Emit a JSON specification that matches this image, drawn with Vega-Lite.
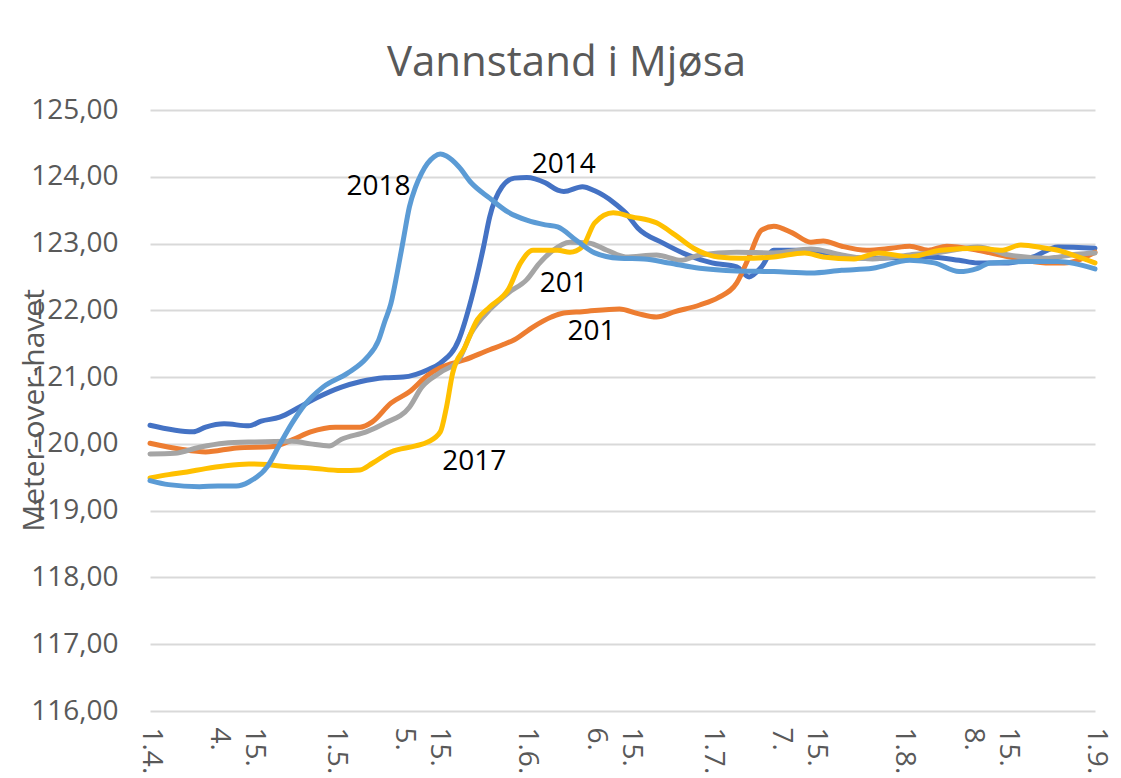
{
  "$schema": "https://vega.github.io/schema/vega-lite/v6.json",
  "width": 945,
  "height": 601,
  "autosize": {"type": "none"},
  "padding": {"left": 150, "top": 110, "right": 26, "bottom": 67},
  "background": "white",
  "title": {"text": "Vannstand i Mjøsa", "font": "Open Sans", "fontSize": 42, "fontWeight": "normal", "color": "#595959", "anchor": "middle", "dx": -56, "dy": 41, "baseline": "alphabetic", "offset": 19},
  "config": {"view": {"stroke": null}, "font": "Open Sans"},
  "datasets": {
    "levels": [
      {"year":"2014","date":"2018-04-01","level":120.28},{"year":"2014","date":"2018-04-08","level":120.18},{"year":"2014","date":"2018-04-10","level":120.25},{"year":"2014","date":"2018-04-13","level":120.30},{"year":"2014","date":"2018-04-17","level":120.27},{"year":"2014","date":"2018-04-19","level":120.34},{"year":"2014","date":"2018-04-22","level":120.40},{"year":"2014","date":"2018-04-25","level":120.54},{"year":"2014","date":"2018-04-28","level":120.69},{"year":"2014","date":"2018-05-02","level":120.85},{"year":"2014","date":"2018-05-05","level":120.93},{"year":"2014","date":"2018-05-09","level":120.99},{"year":"2014","date":"2018-05-12","level":121.00},{"year":"2014","date":"2018-05-16","level":121.11},{"year":"2014","date":"2018-05-18","level":121.21},{"year":"2014","date":"2018-05-21","level":121.56},{"year":"2014","date":"2018-05-23","level":122.16},{"year":"2014","date":"2018-05-25","level":122.95},{"year":"2014","date":"2018-05-26","level":123.40},{"year":"2014","date":"2018-05-28","level":123.85},{"year":"2014","date":"2018-05-30","level":123.98},{"year":"2014","date":"2018-06-01","level":123.99},{"year":"2014","date":"2018-06-04","level":123.91},{"year":"2014","date":"2018-06-06","level":123.80},{"year":"2014","date":"2018-06-07","level":123.78},{"year":"2014","date":"2018-06-10","level":123.85},{"year":"2014","date":"2018-06-12","level":123.79},{"year":"2014","date":"2018-06-15","level":123.62},{"year":"2014","date":"2018-06-17","level":123.46},{"year":"2014","date":"2018-06-19","level":123.23},{"year":"2014","date":"2018-06-23","level":123.01},{"year":"2014","date":"2018-06-27","level":122.83},{"year":"2014","date":"2018-07-01","level":122.71},{"year":"2014","date":"2018-07-05","level":122.65},{"year":"2014","date":"2018-07-07","level":122.50},{"year":"2014","date":"2018-07-09","level":122.65},{"year":"2014","date":"2018-07-11","level":122.90},{"year":"2014","date":"2018-07-17","level":122.90},{"year":"2014","date":"2018-07-22","level":122.80},{"year":"2014","date":"2018-07-27","level":122.78},{"year":"2014","date":"2018-08-05","level":122.80},{"year":"2014","date":"2018-08-10","level":122.75},{"year":"2014","date":"2018-08-13","level":122.71},{"year":"2014","date":"2018-08-18","level":122.71},{"year":"2014","date":"2018-08-22","level":122.80},{"year":"2014","date":"2018-08-26","level":122.95},{"year":"2014","date":"2018-09-01","level":122.93},
      {"year":"2015","date":"2018-04-01","level":120.01},{"year":"2015","date":"2018-04-06","level":119.92},{"year":"2015","date":"2018-04-10","level":119.88},{"year":"2015","date":"2018-04-15","level":119.94},{"year":"2015","date":"2018-04-21","level":119.96},{"year":"2015","date":"2018-04-24","level":120.06},{"year":"2015","date":"2018-04-27","level":120.18},{"year":"2015","date":"2018-05-01","level":120.25},{"year":"2015","date":"2018-05-05","level":120.25},{"year":"2015","date":"2018-05-07","level":120.33},{"year":"2015","date":"2018-05-10","level":120.61},{"year":"2015","date":"2018-05-13","level":120.78},{"year":"2015","date":"2018-05-16","level":121.03},{"year":"2015","date":"2018-05-18","level":121.14},{"year":"2015","date":"2018-05-22","level":121.26},{"year":"2015","date":"2018-05-26","level":121.41},{"year":"2015","date":"2018-05-28","level":121.48},{"year":"2015","date":"2018-05-30","level":121.56},{"year":"2015","date":"2018-06-02","level":121.75},{"year":"2015","date":"2018-06-05","level":121.90},{"year":"2015","date":"2018-06-07","level":121.96},{"year":"2015","date":"2018-06-10","level":121.98},{"year":"2015","date":"2018-06-16","level":122.02},{"year":"2015","date":"2018-06-19","level":121.95},{"year":"2015","date":"2018-06-22","level":121.90},{"year":"2015","date":"2018-06-25","level":121.98},{"year":"2015","date":"2018-06-29","level":122.08},{"year":"2015","date":"2018-07-02","level":122.19},{"year":"2015","date":"2018-07-05","level":122.41},{"year":"2015","date":"2018-07-07","level":122.80},{"year":"2015","date":"2018-07-09","level":123.20},{"year":"2015","date":"2018-07-11","level":123.26},{"year":"2015","date":"2018-07-14","level":123.16},{"year":"2015","date":"2018-07-17","level":123.02},{"year":"2015","date":"2018-07-19","level":123.04},{"year":"2015","date":"2018-07-22","level":122.96},{"year":"2015","date":"2018-07-26","level":122.90},{"year":"2015","date":"2018-07-30","level":122.93},{"year":"2015","date":"2018-08-02","level":122.96},{"year":"2015","date":"2018-08-05","level":122.90},{"year":"2015","date":"2018-08-08","level":122.96},{"year":"2015","date":"2018-08-13","level":122.90},{"year":"2015","date":"2018-08-18","level":122.80},{"year":"2015","date":"2018-08-24","level":122.71},{"year":"2015","date":"2018-08-27","level":122.71},{"year":"2015","date":"2018-09-01","level":122.87},
      {"year":"2016","date":"2018-04-01","level":119.85},{"year":"2016","date":"2018-04-05","level":119.86},{"year":"2016","date":"2018-04-09","level":119.95},{"year":"2016","date":"2018-04-13","level":120.01},{"year":"2016","date":"2018-04-18","level":120.03},{"year":"2016","date":"2018-04-24","level":120.04},{"year":"2016","date":"2018-04-27","level":120.00},{"year":"2016","date":"2018-04-30","level":119.97},{"year":"2016","date":"2018-05-02","level":120.07},{"year":"2016","date":"2018-05-06","level":120.18},{"year":"2016","date":"2018-05-09","level":120.31},{"year":"2016","date":"2018-05-13","level":120.55},{"year":"2016","date":"2018-05-15","level":120.85},{"year":"2016","date":"2018-05-18","level":121.07},{"year":"2016","date":"2018-05-21","level":121.26},{"year":"2016","date":"2018-05-23","level":121.66},{"year":"2016","date":"2018-05-26","level":122.01},{"year":"2016","date":"2018-05-29","level":122.26},{"year":"2016","date":"2018-06-01","level":122.46},{"year":"2016","date":"2018-06-03","level":122.70},{"year":"2016","date":"2018-06-05","level":122.88},{"year":"2016","date":"2018-06-08","level":123.02},{"year":"2016","date":"2018-06-11","level":123.01},{"year":"2016","date":"2018-06-14","level":122.90},{"year":"2016","date":"2018-06-17","level":122.80},{"year":"2016","date":"2018-06-22","level":122.83},{"year":"2016","date":"2018-06-26","level":122.75},{"year":"2016","date":"2018-06-29","level":122.83},{"year":"2016","date":"2018-07-05","level":122.87},{"year":"2016","date":"2018-07-11","level":122.86},{"year":"2016","date":"2018-07-17","level":122.92},{"year":"2016","date":"2018-07-22","level":122.83},{"year":"2016","date":"2018-07-27","level":122.77},{"year":"2016","date":"2018-08-02","level":122.83},{"year":"2016","date":"2018-08-07","level":122.87},{"year":"2016","date":"2018-08-13","level":122.95},{"year":"2016","date":"2018-08-18","level":122.83},{"year":"2016","date":"2018-08-24","level":122.78},{"year":"2016","date":"2018-08-29","level":122.84},{"year":"2016","date":"2018-09-01","level":122.86},
      {"year":"2017","date":"2018-04-01","level":119.49},{"year":"2017","date":"2018-04-04","level":119.54},{"year":"2017","date":"2018-04-07","level":119.58},{"year":"2017","date":"2018-04-10","level":119.63},{"year":"2017","date":"2018-04-13","level":119.67},{"year":"2017","date":"2018-04-17","level":119.70},{"year":"2017","date":"2018-04-20","level":119.69},{"year":"2017","date":"2018-04-23","level":119.66},{"year":"2017","date":"2018-04-27","level":119.64},{"year":"2017","date":"2018-05-02","level":119.60},{"year":"2017","date":"2018-05-05","level":119.61},{"year":"2017","date":"2018-05-07","level":119.71},{"year":"2017","date":"2018-05-10","level":119.88},{"year":"2017","date":"2018-05-14","level":119.97},{"year":"2017","date":"2018-05-16","level":120.03},{"year":"2017","date":"2018-05-18","level":120.18},{"year":"2017","date":"2018-05-19","level":120.55},{"year":"2017","date":"2018-05-20","level":121.06},{"year":"2017","date":"2018-05-22","level":121.45},{"year":"2017","date":"2018-05-24","level":121.86},{"year":"2017","date":"2018-05-26","level":122.05},{"year":"2017","date":"2018-05-29","level":122.31},{"year":"2017","date":"2018-05-31","level":122.71},{"year":"2017","date":"2018-06-02","level":122.90},{"year":"2017","date":"2018-06-06","level":122.90},{"year":"2017","date":"2018-06-08","level":122.87},{"year":"2017","date":"2018-06-10","level":122.95},{"year":"2017","date":"2018-06-12","level":123.31},{"year":"2017","date":"2018-06-15","level":123.46},{"year":"2017","date":"2018-06-18","level":123.40},{"year":"2017","date":"2018-06-22","level":123.31},{"year":"2017","date":"2018-06-25","level":123.13},{"year":"2017","date":"2018-06-28","level":122.93},{"year":"2017","date":"2018-07-02","level":122.80},{"year":"2017","date":"2018-07-06","level":122.78},{"year":"2017","date":"2018-07-11","level":122.80},{"year":"2017","date":"2018-07-16","level":122.86},{"year":"2017","date":"2018-07-19","level":122.80},{"year":"2017","date":"2018-07-24","level":122.77},{"year":"2017","date":"2018-07-28","level":122.86},{"year":"2017","date":"2018-08-02","level":122.80},{"year":"2017","date":"2018-08-07","level":122.90},{"year":"2017","date":"2018-08-13","level":122.93},{"year":"2017","date":"2018-08-17","level":122.90},{"year":"2017","date":"2018-08-20","level":122.98},{"year":"2017","date":"2018-08-24","level":122.93},{"year":"2017","date":"2018-08-26","level":122.90},{"year":"2017","date":"2018-08-29","level":122.81},{"year":"2017","date":"2018-09-01","level":122.71},
      {"year":"2018","date":"2018-04-01","level":119.45},{"year":"2018","date":"2018-04-04","level":119.39},{"year":"2018","date":"2018-04-09","level":119.36},{"year":"2018","date":"2018-04-12","level":119.37},{"year":"2018","date":"2018-04-15","level":119.37},{"year":"2018","date":"2018-04-17","level":119.43},{"year":"2018","date":"2018-04-20","level":119.66},{"year":"2018","date":"2018-04-22","level":119.99},{"year":"2018","date":"2018-04-24","level":120.31},{"year":"2018","date":"2018-04-26","level":120.58},{"year":"2018","date":"2018-04-29","level":120.85},{"year":"2018","date":"2018-05-03","level":121.06},{"year":"2018","date":"2018-05-06","level":121.28},{"year":"2018","date":"2018-05-08","level":121.55},{"year":"2018","date":"2018-05-09","level":121.83},{"year":"2018","date":"2018-05-10","level":122.10},{"year":"2018","date":"2018-05-11","level":122.55},{"year":"2018","date":"2018-05-12","level":123.05},{"year":"2018","date":"2018-05-13","level":123.55},{"year":"2018","date":"2018-05-14","level":123.85},{"year":"2018","date":"2018-05-15","level":124.06},{"year":"2018","date":"2018-05-17","level":124.30},{"year":"2018","date":"2018-05-18","level":124.34},{"year":"2018","date":"2018-05-19","level":124.31},{"year":"2018","date":"2018-05-21","level":124.15},{"year":"2018","date":"2018-05-23","level":123.91},{"year":"2018","date":"2018-05-26","level":123.68},{"year":"2018","date":"2018-05-29","level":123.47},{"year":"2018","date":"2018-06-01","level":123.35},{"year":"2018","date":"2018-06-04","level":123.28},{"year":"2018","date":"2018-06-06","level":123.25},{"year":"2018","date":"2018-06-09","level":123.05},{"year":"2018","date":"2018-06-12","level":122.86},{"year":"2018","date":"2018-06-16","level":122.78},{"year":"2018","date":"2018-06-20","level":122.77},{"year":"2018","date":"2018-06-24","level":122.71},{"year":"2018","date":"2018-06-29","level":122.63},{"year":"2018","date":"2018-07-05","level":122.59},{"year":"2018","date":"2018-07-11","level":122.58},{"year":"2018","date":"2018-07-17","level":122.56},{"year":"2018","date":"2018-07-22","level":122.60},{"year":"2018","date":"2018-07-27","level":122.63},{"year":"2018","date":"2018-08-02","level":122.75},{"year":"2018","date":"2018-08-06","level":122.71},{"year":"2018","date":"2018-08-10","level":122.58},{"year":"2018","date":"2018-08-13","level":122.63},{"year":"2018","date":"2018-08-15","level":122.71},{"year":"2018","date":"2018-08-21","level":122.73},{"year":"2018","date":"2018-08-26","level":122.73},{"year":"2018","date":"2018-09-01","level":122.62}
    ],
    "labels": [
      {"label":"2018","date":"2018-05-08","level":123.84},
      {"label":"2014","date":"2018-06-07","level":124.18},
      {"label":"201","date":"2018-06-07","level":122.40},
      {"label":"201","date":"2018-06-11T12:00:00Z","level":121.68},
      {"label":"2017","date":"2018-05-23T12:00:00Z","level":119.73}
    ]
  },
  "layer": [
    {
      "data": {"name": "levels"},
      "mark": {"type": "line", "interpolate": "monotone", "strokeWidth": 5, "strokeCap": "round", "strokeJoin": "round"},
      "encoding": {
        "x": {
          "field": "date", "type": "temporal",
          "scale": {"type": "utc", "nice": false, "domain": [{"year":2018,"month":4,"date":1,"utc":true},{"year":2018,"month":9,"date":1,"utc":true}]},
          "axis": {
            "title": null, "domain": false, "ticks": false, "grid": false,
            "values": [{"year":2018,"month":4,"date":1,"utc":true},{"year":2018,"month":4,"date":15,"utc":true},{"year":2018,"month":5,"date":1,"utc":true},{"year":2018,"month":5,"date":15,"utc":true},{"year":2018,"month":6,"date":1,"utc":true},{"year":2018,"month":6,"date":15,"utc":true},{"year":2018,"month":7,"date":1,"utc":true},{"year":2018,"month":7,"date":15,"utc":true},{"year":2018,"month":8,"date":1,"utc":true},{"year":2018,"month":8,"date":15,"utc":true},{"year":2018,"month":9,"date":1,"utc":true}],
            "labelExpr": "utcdate(datum.value) == 1 ? utcdate(datum.value) + '.' + (utcmonth(datum.value) + 1) + '.' : [utcdate(datum.value) + '.', (utcmonth(datum.value) + 1) + '.']",
            "labelAngle": 90, "labelAlign": "left", "labelBaseline": "middle",
            "labelOffset": {"condition": {"test": "utcdate(datum.value) != 1", "value": 17}, "value": 0},
            "labelFont": "Open Sans", "labelFontSize": 28, "labelColor": "#595959",
            "labelPadding": 16, "labelLineHeight": 35, "labelOverlap": false, "labelFlush": false, "labelBound": false
          }
        },
        "y": {
          "field": "level", "type": "quantitative",
          "scale": {"domain": [116, 125], "nice": false, "zero": false},
          "axis": {
            "title": "Meter-over-havet", "titleFont": "Open Sans", "titleFontSize": 30, "titleFontWeight": "normal", "titleColor": "#595959",
            "titleAngle": -90, "titleX": -116, "titleY": 300, "titleAlign": "center", "titleBaseline": "middle",
            "values": [116,117,118,119,120,121,122,123,124,125],
            "labelExpr": "replace(format(datum.value, '.2f'), '.', ',')",
            "labelFont": "Open Sans", "labelFontSize": 28, "labelColor": "#595959", "labelPadding": 32,
            "domain": false, "ticks": false, "grid": true, "gridColor": "#D9D9D9", "gridWidth": 2
          }
        },
        "color": {
          "field": "year", "type": "nominal",
          "scale": {"domain": ["2014","2015","2016","2017","2018"], "range": ["#4472C4","#ED7D31","#A5A5A5","#FFC000","#5B9BD5"]},
          "legend": null
        }
      }
    },
    {
      "data": {"name": "labels"},
      "mark": {"type": "text", "font": "Open Sans", "fontSize": 28, "color": "#000000", "align": "center", "baseline": "middle"},
      "encoding": {
        "x": {"field": "date", "type": "temporal"},
        "y": {"field": "level", "type": "quantitative"},
        "text": {"field": "label"}
      }
    }
  ]
}
